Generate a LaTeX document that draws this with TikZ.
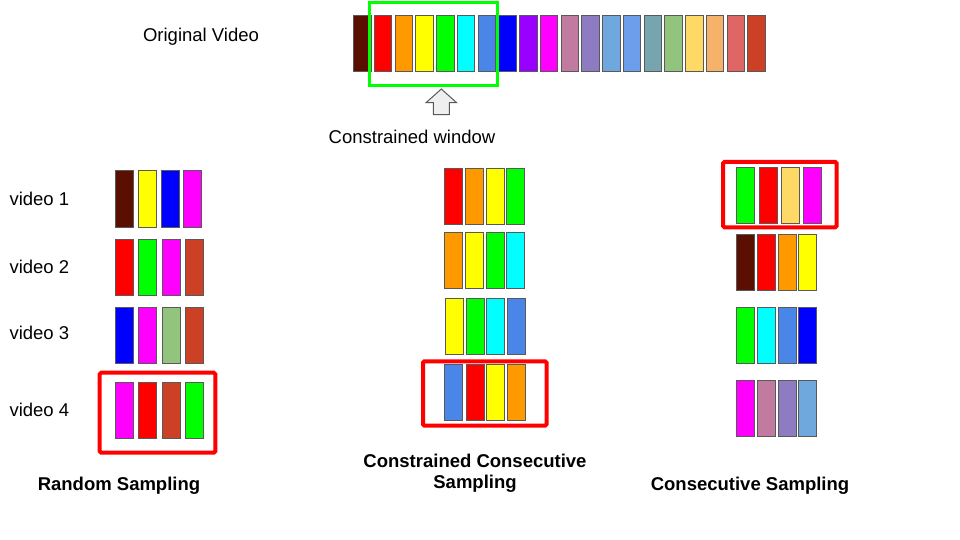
\documentclass[tikz,border=0pt]{standalone}
\usepackage{fontspec}
\setmainfont{Liberation Sans}
\definecolor{cBrown}{HTML}{5B0F00}
\definecolor{cRed}{HTML}{FF0000}
\definecolor{cOrange}{HTML}{FF9900}
\definecolor{cYellow}{HTML}{FFFF00}
\definecolor{cGreen}{HTML}{00FF00}
\definecolor{cCyan}{HTML}{00FFFF}
\definecolor{cCorn}{HTML}{4A86E8}
\definecolor{cBlue}{HTML}{0000FF}
\definecolor{cPurple}{HTML}{9900FF}
\definecolor{cMagenta}{HTML}{FF00FF}
\definecolor{cRose}{HTML}{C27BA0}
\definecolor{cLav}{HTML}{8E7CC3}
\definecolor{cSky}{HTML}{6FA8DC}
\definecolor{cSky2}{HTML}{6D9EEB}
\definecolor{cTeal}{HTML}{76A5AF}
\definecolor{cSage}{HTML}{93C47D}
\definecolor{cSand}{HTML}{FFD966}
\definecolor{cPeach}{HTML}{F6B26B}
\definecolor{cCoral}{HTML}{E06666}
\definecolor{cRust}{HTML}{CC4125}
\definecolor{cBorder}{HTML}{595959}
\definecolor{cArrow}{HTML}{EFEFEF}
\begin{document}
\begin{tikzpicture}[x=1pt,y=-1pt,
  frame/.style={draw=cBorder, line width=1pt, minimum width=17.5pt, minimum height=56pt, inner sep=0pt},
  redbox/.style={draw=cRed, line width=4pt, rounded corners=1.5pt, inner sep=0pt},
  greenbox/.style={draw=cGreen, line width=3pt, inner sep=0pt},
  lbl/.style={inner sep=0pt, font=\fontsize{18.5}{21}\selectfont, text height=13.2pt, text depth=0pt},
  title/.style={inner sep=0pt, font=\bfseries\fontsize{18.5}{21}\selectfont, align=center}]
\useasboundingbox (0,0) rectangle (960,540);

% original video strip
\foreach \c [count=\i from 0] in {cBrown,cRed,cOrange,cYellow,cGreen,cCyan,cCorn,cBlue,cPurple,cMagenta,cRose,cLav,cSky,cSky2,cTeal,cSage,cSand,cPeach,cCoral,cRust}
  \node[frame, fill=\c] (o\i) at ({362.3+20.75*\i},43.75) {};
\node[greenbox, minimum width=128pt, minimum height=83.3pt] (win) at (433.5,44.15) {};
\node[lbl] (orig) at (201,35) {Original Video};

% constrained window arrow
\draw[draw=cBorder, fill=cArrow, line width=1pt, line join=miter]
  (441.3,89) -- (456.6,102.7) -- (449.3,102.7) -- (449.3,114.7) -- (433.3,114.7) -- (433.3,102.7) -- (426,102.7) -- cycle;
\node[lbl] (cw) at (412,137) {Constrained window};

% video labels
\node[lbl, anchor=west] (v1) at (9.3,199.3) {video 1};
\node[lbl, anchor=west] (v2) at (9.3,267.3) {video 2};
\node[lbl, anchor=west] (v3) at (9.3,333.3) {video 3};
\node[lbl, anchor=west] (v4) at (9.3,410) {video 4};

% random sampling
\foreach \c/\x [count=\i] in {cBrown/124.3,cYellow/147.3,cBlue/170.3,cMagenta/192.3}
  \node[frame, fill=\c] (ra\i) at (\x,199) {};
\foreach \c/\x [count=\i] in {cRed/124.3,cGreen/147.3,cMagenta/171.3,cRust/194.3}
  \node[frame, fill=\c] (rb\i) at (\x,267.5) {};
\foreach \c/\x [count=\i] in {cBlue/124.3,cMagenta/147.3,cSage/171.3,cRust/194.3}
  \node[frame, fill=\c] (rc\i) at (\x,335.7) {};
\foreach \c/\x [count=\i] in {cMagenta/124.3,cRed/147.3,cRust/171.3,cGreen/194.3}
  \node[frame, fill=\c] (rd\i) at (\x,410.2) {};
\node[redbox, minimum width=115.6pt, minimum height=80pt] (rbox) at (157.5,412.7) {};
\node[title] (rt) at (119,485.7) {Random Sampling};

% constrained consecutive sampling
\foreach \c/\x [count=\i] in {cRed/453.3,cOrange/474.3,cYellow/495.3,cGreen/515.3}
  \node[frame, fill=\c] (ma\i) at (\x,196.3) {};
\foreach \c/\x [count=\i] in {cOrange/453.3,cYellow/474.3,cGreen/495.3,cCyan/515.3}
  \node[frame, fill=\c] (mb\i) at (\x,260.3) {};
\foreach \c/\x [count=\i] in {cYellow/454.3,cGreen/475.3,cCyan/495.3,cCorn/516.3}
  \node[frame, fill=\c] (mc\i) at (\x,326.3) {};
\foreach \c/\x [count=\i] in {cCorn/453.3,cRed/475.3,cYellow/495.3,cOrange/516.3}
  \node[frame, fill=\c] (md\i) at (\x,392.2) {};
\node[redbox, minimum width=123.7pt, minimum height=64.4pt] (mbox) at (484.85,393.5) {};
\node[title, anchor=north] (mt) at (475,454.2) {Constrained Consecutive\\Sampling};

% consecutive sampling
\foreach \c/\x [count=\i] in {cGreen/745.3,cRed/768.3,cSand/790.3,cMagenta/812.3}
  \node[frame, fill=\c] (ca\i) at (\x,195.8) {};
\node[redbox, minimum width=113.7pt, minimum height=65.3pt] (cbox) at (779.85,194.65) {};
\foreach \c/\x [count=\i] in {cBrown/745.3,cRed/766.3,cOrange/787.3,cYellow/807.3}
  \node[frame, fill=\c] (cb\i) at (\x,262.8) {};
\foreach \c/\x [count=\i] in {cGreen/745.3,cCyan/766.3,cCorn/787.3,cBlue/807.3}
  \node[frame, fill=\c] (cc\i) at (\x,335.8) {};
\foreach \c/\x [count=\i] in {cMagenta/745.3,cRose/766.3,cLav/787.3,cSky/807.3}
  \node[frame, fill=\c] (cd\i) at (\x,408.5) {};
\node[title] (ct) at (750,485.7) {Consecutive Sampling};
\end{tikzpicture}
\end{document}
